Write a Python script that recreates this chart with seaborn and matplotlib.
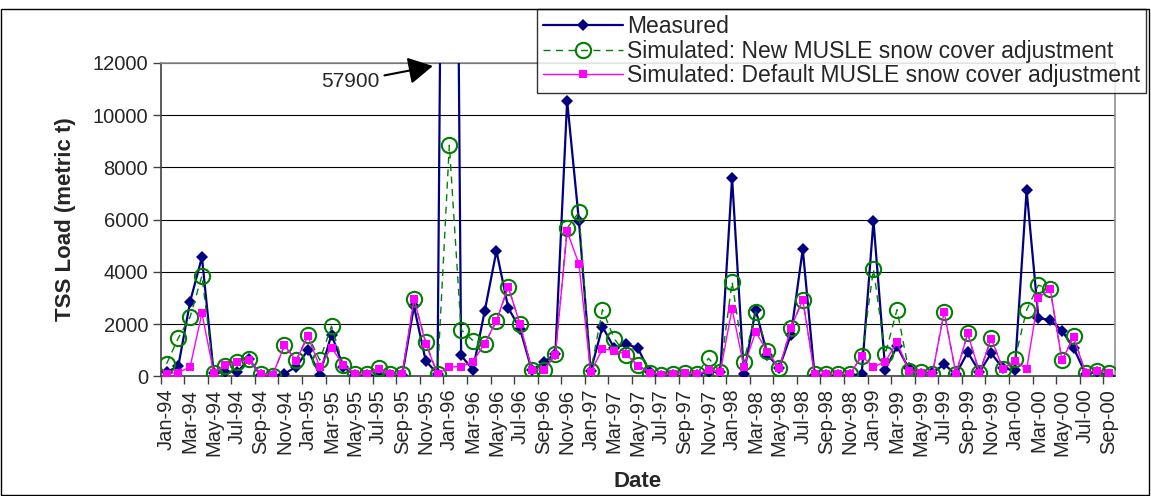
import numpy as np
import pandas as pd
import matplotlib
matplotlib.use("Agg")
import matplotlib.pyplot as plt
from matplotlib.patches import Rectangle
import seaborn as sns

# Monthly TSS loads, Jan-1994 .. Sep-2000 (metric t)
months = pd.date_range("1994-01-01", "2000-09-01", freq="MS").strftime("%b-%y").tolist()

measured = [
    150, 400, 2860, 4560, 130, 170, 170, 650, 40, 0,
    100, 360, 1010, 60, 1600, 360, 40, 40, 0, 40,
    40, 2680, 585, 100, 57900, 800, 250, 2490, 4800, 2620,
    1820, 235, 530, 860, 10550, 5960, 210, 1900, 1080, 1240,
    1080, 170, 0, 40, 0, 60, 170, 170, 7600, 100,
    2550, 820, 325, 1600, 4870, 60, 40, 40, 40, 80,
    5950, 260, 1145, 300, 100, 130, 455, 80, 920, 170,
    880, 300, 235, 7130, 2230, 2160, 1750, 1080, 100, 170,
    0,
]
sim_new = [
    480, 1470, 2275, 3850, 140, 400, 550, 650, 80, 20,
    1180, 620, 1570, 620, 1920, 430, 80, 80, 300, 100,
    80, 2960, 1300, 80, 8850, 1780, 1370, 1240, 2110, 3430,
    1990, 260, 230, 845, 5670, 6280, 195, 2550, 1440, 830,
    440, 140, 65, 100, 140, 100, 690, 170, 3620, 560,
    2470, 975, 300, 1860, 2940, 80, 80, 80, 80, 780,
    4100, 845, 2550, 210, 160, 80, 2470, 80, 1640, 140,
    1470, 270, 650, 2540, 3490, 3330, 620, 1530, 130, 210,
    140,
]
sim_default = [
    100, 140, 360, 2420, 140, 430, 550, 620, 80, 40,
    1180, 600, 1530, 360, 1100, 430, 80, 80, 270, 80,
    80, 2960, 1250, 80, 360, 370, 560, 1250, 2130, 3430,
    1990, 260, 230, 820, 5550, 4300, 155, 1050, 980, 850,
    410, 140, 65, 80, 140, 80, 230, 170, 2590, 360,
    1700, 950, 300, 1860, 2940, 80, 80, 80, 80, 780,
    360, 560, 1310, 210, 140, 80, 2470, 100, 1640, 140,
    1440, 270, 600, 270, 3000, 3350, 620, 1490, 130, 210,
    140,
]
peak_label = "57900"
y_ticks = [0, 2000, 4000, 6000, 8000, 10000, 12000]

sns.set_theme(style="white")
plt.rcParams["font.family"] = ["Liberation Sans", "DejaVu Sans"]

df = pd.DataFrame({
    "pos": np.arange(len(months)),
    "month": months,
    "Measured": measured,
    "New": sim_new,
    "Default": sim_default,
})

fig = plt.figure(figsize=(11.51, 4.96), dpi=100)
ax = fig.add_axes([0.1396, 0.2413, 0.8291, 0.6319])

sns.lineplot(data=df, x="pos", y="Measured", ax=ax, color="#000080",
             linewidth=1.6, marker="D", markersize=6, markeredgewidth=0,
             markerfacecolor="#000080", label="Measured", zorder=3)
sns.lineplot(data=df, x="pos", y="New", ax=ax, color="#008000",
             linewidth=1.0, linestyle=(0, (5, 4)), marker="o", markersize=11,
             markerfacecolor="none", markeredgecolor="#008000", markeredgewidth=1.5,
             label="Simulated: New MUSLE snow cover adjustment", zorder=4)
sns.lineplot(data=df, x="pos", y="Default", ax=ax, color="#FF00FF",
             linewidth=1.0, marker="s", markersize=6, markeredgewidth=0,
             markerfacecolor="#FF00FF",
             label="Simulated: Default MUSLE snow cover adjustment", zorder=5)

n = len(months)
ax.set_xlim(-0.5, n - 0.5)
ax.set_ylim(0, 12000)
ax.set_yticks(y_ticks)
ax.set_yticklabels([str(v) for v in y_ticks], fontsize=14.5)
ax.yaxis.grid(True, color="black", linewidth=0.8)
ax.xaxis.grid(False)
ax.set_axisbelow(True)

ax.set_xticks(np.arange(0, n, 2))
ax.set_xticklabels(months[::2], rotation=90, fontsize=14.5)
ax.set_xticks(np.arange(-0.5, n - 1, 2), minor=True)
ax.tick_params(axis="x", which="major", length=0, pad=9)
ax.tick_params(axis="x", which="minor", length=6, width=1, color="#404040",
               direction="out", bottom=True)
ax.tick_params(axis="y", which="major", length=6, width=1, color="#404040",
               direction="out", left=True, pad=3)

for side in ["left", "bottom"]:
    ax.spines[side].set_color("#404040")
    ax.spines[side].set_linewidth(1.2)
for side in ["top", "right"]:
    ax.spines[side].set_visible(True)
    ax.spines[side].set_color("#909090")
    ax.spines[side].set_linewidth(1.2)

ax.set_xlabel("Date", fontsize=16, fontweight="bold", labelpad=11)
ax.set_ylabel("TSS Load (metric t)", fontsize=16, fontweight="bold", labelpad=12)

ax.annotate(peak_label, xy=(22.6, 11880), xytext=(18.1, 11270),
            ha="right", va="center", fontsize=15,
            arrowprops=dict(arrowstyle="-|>,head_length=1.0,head_width=0.55",
                            color="black", lw=1.5, shrinkA=1, shrinkB=0),
            annotation_clip=False)

leg = ax.legend(loc="upper left", bbox_to_anchor=(537 / 1151, 1 - 9 / 496),
                bbox_transform=fig.transFigure, fontsize=16.5, frameon=True,
                fancybox=False, shadow=False, edgecolor="black",
                handlelength=3.5, handletextpad=0.18, labelspacing=0.08,
                borderpad=0.25, borderaxespad=0)
leg.get_frame().set_linewidth(1.0)
leg.set_zorder(10)

# Chart-area frame
fig.patches.append(Rectangle((0.001, 0.002), 0.997, 0.980, transform=fig.transFigure,
                             fill=False, edgecolor="black", linewidth=1.0))

fig.savefig("out.png", dpi=100)
